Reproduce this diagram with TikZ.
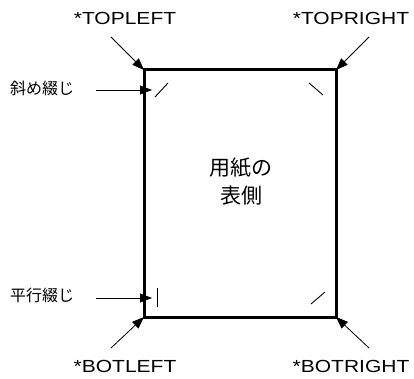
\documentclass[tikz,border=0pt]{standalone}
\usepackage{fontspec}
\usepackage{tikz}
\setmainfont{Liberation Sans}
\newfontfamily\widefont[FakeStretch=1.2]{Liberation Sans}
\newfontfamily\jpfont{Noto Sans CJK JP}
\usetikzlibrary{arrows.meta}

\begin{document}
\begin{tikzpicture}[x=1pt, y=-1pt, >={Triangle[length=12pt,width=9pt]},
    cornerlabel/.style={font=\widefont\fontsize{17.5}{20}\selectfont, inner sep=0pt, anchor=base},
    sidelabel/.style={font=\jpfont\fontsize{16}{18}\selectfont, inner sep=0pt},
    pointer/.style={->, line width=0.8pt},
    stitch/.style={line width=0.9pt}]
    \useasboundingbox (0,0) rectangle (414,379);

    % Sheet
    \coordinate (tl) at (144,70);
    \coordinate (tr) at (336,70);
    \coordinate (bl) at (144,317);
    \coordinate (br) at (336,317);
    \draw[line width=3pt] (tl) rectangle (br);
    \node[font=\jpfont\fontsize{21}{28}\selectfont, align=center] (front) at (241,182) {用紙の\\表側};

    % Stitch marks
    \draw[stitch] (155,97) -- (168,83);
    \draw[stitch] (309,83) -- (323,95);
    \draw[stitch] (157,288) -- (157,307);
    \draw[stitch] (311,304) -- (325,292);

    % Corner labels
    \node[cornerlabel] (topleft) at (125,25) {*TOPLEFT};
    \node[cornerlabel] (topright) at (351,25) {*TOPRIGHT};
    \node[cornerlabel] (botleft) at (125,372) {*BOTLEFT};
    \node[cornerlabel] (botright) at (351,372) {*BOTRIGHT};
    \coordinate (tlfrom) at (111,37);
    \coordinate (trfrom) at (369,37);
    \coordinate (blfrom) at (111,348);
    \coordinate (brfrom) at (369,348);
    \draw[pointer] (tlfrom) -- (tl);
    \draw[pointer] (trfrom) -- (tr);
    \draw[pointer] (blfrom) -- (bl);
    \draw[pointer] (brfrom) -- (br);

    % Stitch labels
    \node[sidelabel] (slant) at (42,88) {斜め綴じ};
    \node[sidelabel] (parallel) at (42,295) {平行綴じ};
    \coordinate (slanttip) at (152,90);
    \coordinate (paralleltip) at (152,298);
    \draw[pointer] (slant.east |- slanttip) ++(22,0) -- (slanttip);
    \draw[pointer] (parallel.east |- paralleltip) ++(22,0) -- (paralleltip);
\end{tikzpicture}
\end{document}
